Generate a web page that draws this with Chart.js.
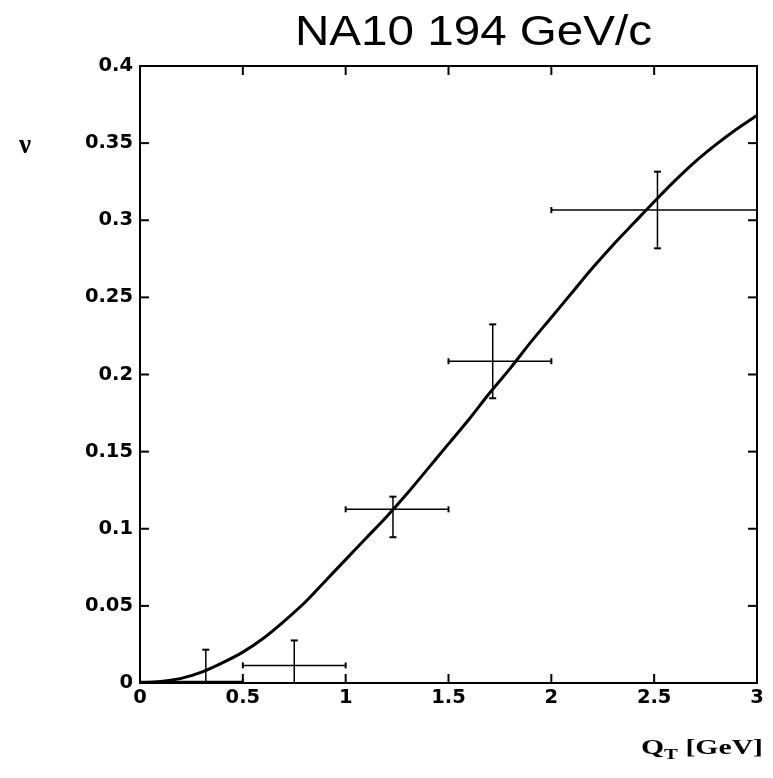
<!DOCTYPE html>
<html lang="en">
<head>
<meta charset="UTF-8">
<title>NA10 194 GeV/c</title>
<script src="https://cdn.jsdelivr.net/npm/chart.js@4.4.1/dist/chart.umd.min.js"></script>
<style>
  body { margin: 0; background: #fff; }
  #wrap { position: relative; width: 773px; height: 778px; }
  .lbl { position: absolute; white-space: nowrap; color: #000; line-height: 1; }
  #title { font-family: "Liberation Sans", Arial, sans-serif; font-size: 42px; left: 295px; top: 9.5px; transform-origin: left center; }
  #ylabel { font-family: "Liberation Serif", serif; font-weight: bold; font-size: 27px; left: 19px; top: 131px; }
  #xlabel { font-family: "Liberation Serif", serif; font-weight: bold; font-size: 20px; left: 641px; top: 737px; transform-origin: left center; }
  #xlabel sub { font-size: 14px; vertical-align: -5px; }
</style>
</head>
<body>
<div id="wrap">
  <canvas id="nuChart" width="773" height="778"></canvas>
  <span class="lbl" id="title">NA10 194 GeV/c</span>
  <span class="lbl" id="ylabel">ν</span>
  <span class="lbl" id="xlabel">Q<sub>T</sub> [GeV]</span>
</div>
<script>
// theory curve
const curveX = [0, 0.1, 0.2, 0.3, 0.4, 0.5, 0.6, 0.7, 0.8, 0.9, 1.0,
                1.1, 1.2, 1.3, 1.4, 1.5, 1.6, 1.7, 1.8, 1.9, 2.0,
                2.1, 2.2, 2.3, 2.4, 2.5, 2.6, 2.7, 2.8, 2.9, 3.0];
const curveY = [0, 0.001, 0.003, 0.007, 0.013, 0.020, 0.029, 0.040, 0.052, 0.066, 0.080,
                0.094, 0.108, 0.123, 0.139, 0.155, 0.171, 0.188, 0.204, 0.221, 0.237,
                0.253, 0.269, 0.284, 0.298, 0.312, 0.3255, 0.338, 0.349, 0.359, 0.368];

// NA10 data points with error bars
const ptX     = [0.32, 0.75, 1.23, 1.715, 2.516];
const ptY     = [0.001, 0.0114, 0.1126, 0.2086, 0.3066];
const ptXLow  = [0.0, 0.5, 1.0, 1.5, 2.0];
const ptXHigh = [0.5, 1.0, 1.5, 2.0, 3.0];
const ptYLow  = [-0.02, -0.005, 0.0945, 0.1846, 0.2818];
const ptYHigh = [0.0216, 0.0276, 0.1208, 0.2325, 0.3315];

const xTicks = [0, 0.5, 1, 1.5, 2, 2.5, 3];
const xTickLabels = ['0', '0.5', '1', '1.5', '2', '2.5', '3'];
const yTicks = [0, 0.05, 0.1, 0.15, 0.2, 0.25, 0.3, 0.35, 0.4];
const yTickLabels = ['0', '0.05', '0.1', '0.15', '0.2', '0.25', '0.3', '0.35', '0.4'];

function seg(ctx, x1, y1, x2, y2) {
    ctx.beginPath();
    ctx.moveTo(x1, y1);
    ctx.lineTo(x2, y2);
    ctx.stroke();
}

// error bars, frame and inward ticks
const frameAndBars = {
    id: 'frameAndBars',
    afterDatasetsDraw(chart) {
        const ctx = chart.ctx;
        const a = chart.chartArea;
        const xs = chart.scales.x, ys = chart.scales.y;

        ctx.save();
        ctx.beginPath();
        ctx.rect(a.left, a.top, a.right - a.left, a.bottom - a.top);
        ctx.clip();
        ctx.strokeStyle = '#000';
        for (let i = 0; i < ptX.length; i++) {
            const px = xs.getPixelForValue(ptX[i]);
            const py = ys.getPixelForValue(ptY[i]);
            const xl = xs.getPixelForValue(ptXLow[i]);
            const xh = xs.getPixelForValue(ptXHigh[i]);
            const yl = ys.getPixelForValue(ptYLow[i]);
            const yh = ys.getPixelForValue(ptYHigh[i]);
            ctx.lineWidth = 1.5;
            seg(ctx, xl, py, xh, py);
            seg(ctx, px, yl, px, yh);
            ctx.lineWidth = 2;
            seg(ctx, xl, py - 3, xl, py + 3);
            seg(ctx, xh, py - 3, xh, py + 3);
            seg(ctx, px - 3.5, yh, px + 3.5, yh);
            seg(ctx, px - 3.5, yl, px + 3.5, yl);
        }
        ctx.restore();

        ctx.save();
        ctx.strokeStyle = '#000';
        ctx.lineWidth = 2;
        ctx.strokeRect(a.left, a.top, a.right - a.left, a.bottom - a.top);
        xs.ticks.forEach(t => {
            const px = xs.getPixelForValue(t.value);
            seg(ctx, px, a.bottom, px, a.bottom - 9);
            seg(ctx, px, a.top, px, a.top + 9);
        });
        ys.ticks.forEach(t => {
            const py = ys.getPixelForValue(t.value);
            seg(ctx, a.left, py, a.left + 9, py);
            seg(ctx, a.right, py, a.right - 9, py);
        });
        ctx.restore();
    }
};

const tickFont = { family: '"DejaVu Sans", sans-serif', size: 19.5, weight: 'bold' };

new Chart(document.getElementById('nuChart'), {
    type: 'scatter',
    data: {
        datasets: [{
            data: curveX.map((x, i) => ({ x: x, y: curveY[i] })),
            showLine: true,
            borderColor: '#000',
            borderWidth: 3,
            pointRadius: 0,
            cubicInterpolationMode: 'monotone'
        }]
    },
    options: {
        responsive: false,
        animation: false,
        layout: { padding: { top: 66, right: 16, left: 0, bottom: 0 } },
        plugins: { legend: { display: false }, tooltip: { enabled: false } },
        scales: {
            x: {
                type: 'linear', min: 0, max: 3,
                afterBuildTicks: s => { s.ticks = xTicks.map(v => ({ value: v })); },
                afterFit: s => { s.height = 95; },
                grid: { display: false, drawTicks: false },
                border: { display: false },
                ticks: {
                    color: '#000', font: tickFont, padding: 3, maxRotation: 0,
                    callback: (v, i) => xTickLabels[i]
                }
            },
            y: {
                type: 'linear', min: 0, max: 0.4,
                afterBuildTicks: s => { s.ticks = yTicks.map(v => ({ value: v })); },
                afterFit: s => { s.width = 140; },
                grid: { display: false, drawTicks: false },
                border: { display: false },
                ticks: {
                    color: '#000', font: tickFont, padding: 7,
                    callback: (v, i) => yTickLabels[i]
                }
            }
        }
    },
    plugins: [frameAndBars]
});

// stretch the labels to the widths seen in the picture
function fitWidth(id, target) {
    const el = document.getElementById(id);
    const w = el.getBoundingClientRect().width;
    el.style.transform = 'scaleX(' + (target / w) + ')';
}
fitWidth('title', 357);
fitWidth('xlabel', 122);
</script>
</body>
</html>
